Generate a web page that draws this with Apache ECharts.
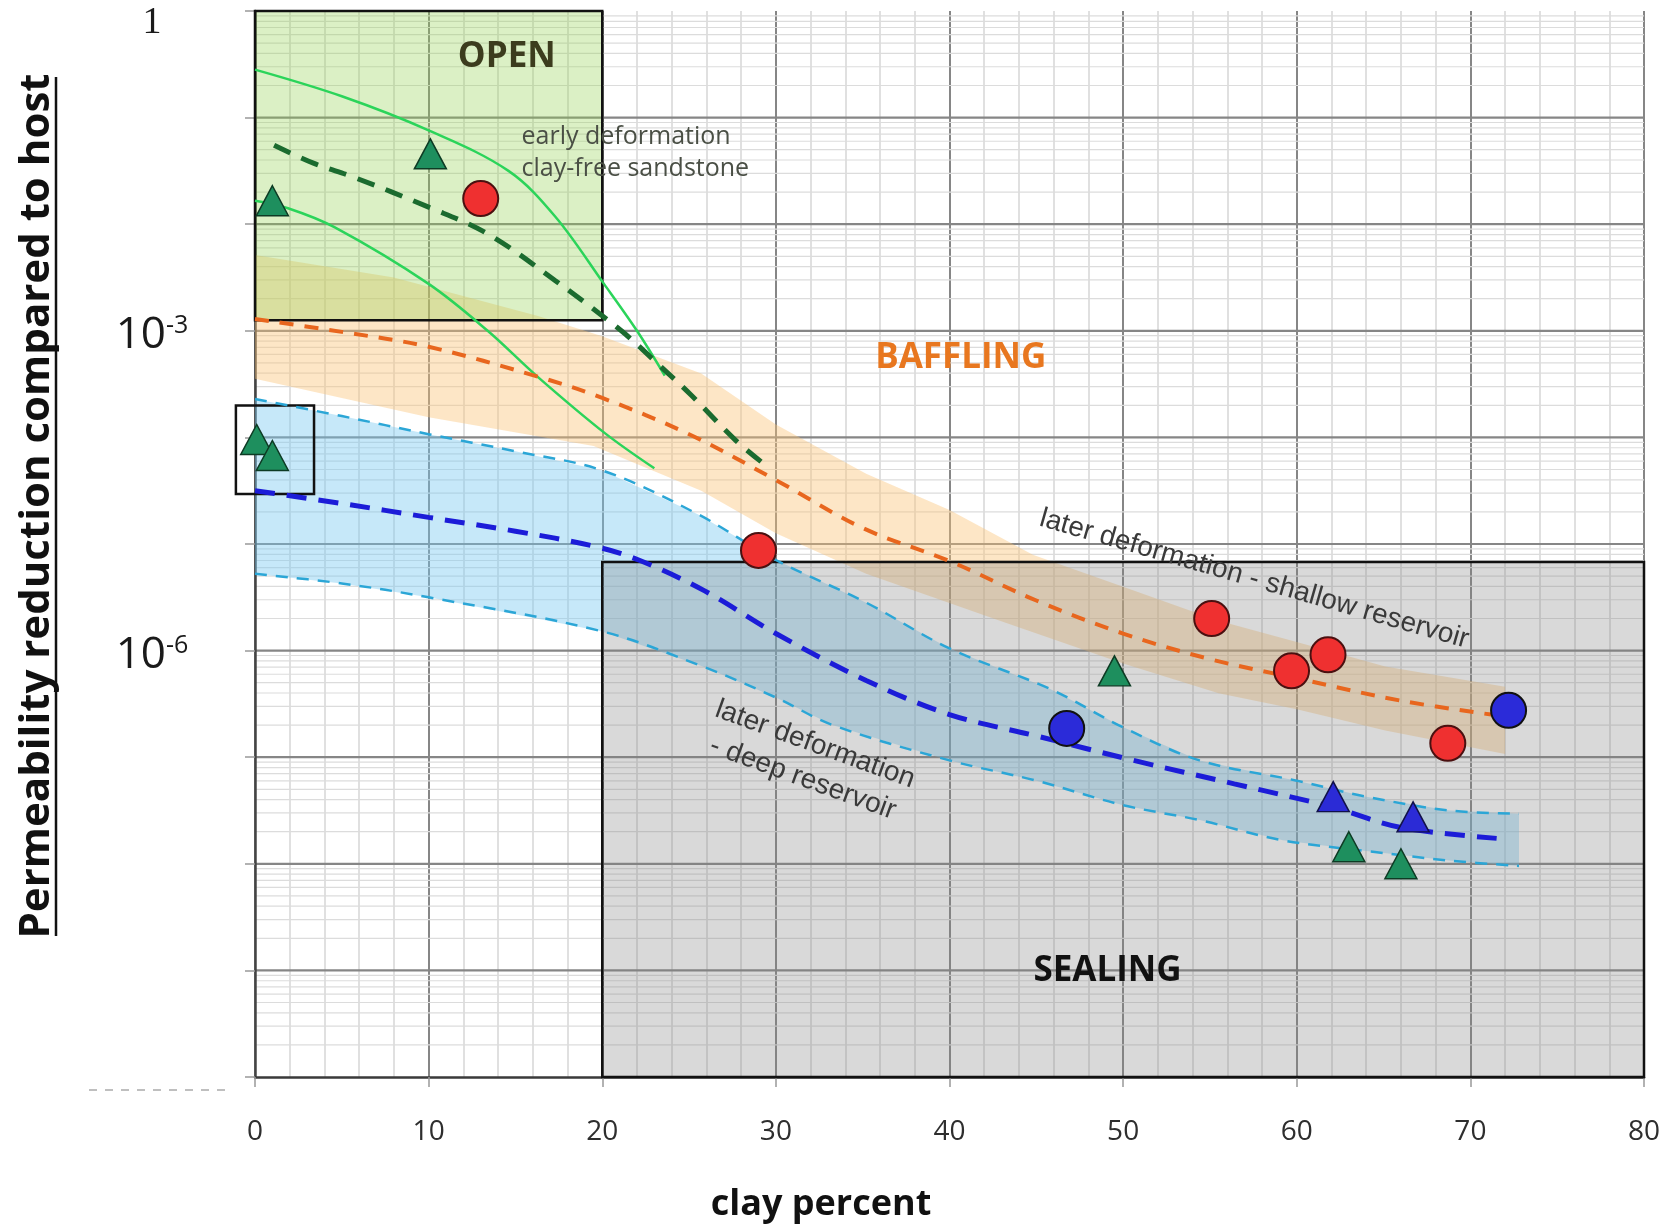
<!DOCTYPE html>
<html>
<head>
<meta charset="utf-8">
<script src="https://cdn.jsdelivr.net/npm/echarts@6/dist/echarts.min.js"></script>
<style>
html, body { margin: 0; padding: 0; background: #fff; }
#chart { width: 1668px; height: 1228px; }
</style>
</head>
<body>
<div id="chart"></div>
<script>
// y values are log10 of the permeability reduction (0 -> 1, -3 -> 10^-3, ...)
// x values are clay percent

// tick labels
const xTicks = [0, 10, 20, 30, 40, 50, 60, 70, 80];
const yLabelExps = [0, -3, -6];

// early deformation, clay-free sandstone (green)
const earlyUpper = [[0, -0.55], [5, -0.8], [10, -1.12], [14.6, -1.5], [17.3, -1.93], [20.1, -2.56], [22, -3.0], [23.6, -3.42]];
const earlyLower = [[0, -1.78], [1.9, -1.85], [4.6, -2.03], [10, -2.56], [13.4, -3.0], [16.2, -3.42], [20.15, -3.96], [23, -4.29]];
const earlyMean = [[1.1, -1.26], [3.4, -1.43], [5.7, -1.56], [10, -1.84], [13.4, -2.09], [17.3, -2.53], [21.1, -3.0], [23, -3.28], [25.1, -3.6], [27.7, -4.03], [29.4, -4.26]];

// later deformation, shallow reservoir (orange)
const shallowMean = [[0, -2.89], [5, -3.01], [10, -3.15], [16.3, -3.43], [20, -3.63], [25, -3.97], [30, -4.4], [35, -4.85], [40, -5.16], [45, -5.53], [50, -5.84], [55, -6.08], [60, -6.26], [66, -6.47], [71.2, -6.6]];
const shallowUpper = [[0, -2.29], [8, -2.5], [16.3, -2.86], [20, -3.05], [25.7, -3.4], [30, -3.88], [35.2, -4.34], [40, -4.68], [44.8, -5.1], [50, -5.4], [55.5, -5.72], [60, -5.92], [65.1, -6.15], [72, -6.34]];
const shallowLower = [[0, -3.45], [10, -3.81], [19.5, -4.08], [25.7, -4.5], [30, -4.9], [35.2, -5.28], [42.9, -5.72], [50, -6.12], [55.5, -6.4], [60, -6.55], [65.1, -6.75], [72, -6.97]];

// later deformation, deep reservoir (blue)
const deepMean = [[0, -4.5], [5, -4.62], [10, -4.75], [15, -4.88], [19.5, -5.02], [22.1, -5.15], [25.9, -5.44], [30, -5.84], [35.2, -6.28], [40, -6.6], [45, -6.8], [50.6, -7.03], [56.4, -7.25], [62.1, -7.47], [66, -7.66], [72.2, -7.77]];
const deepUpper = [[0, -3.64], [5, -3.8], [10, -3.97], [15, -4.13], [20, -4.31], [25.5, -4.72], [30, -5.15], [35.2, -5.55], [40, -5.98], [45.8, -6.36], [50, -6.72], [54.4, -7.03], [60, -7.22], [64, -7.37], [68.8, -7.5], [72.8, -7.53]];
const deepLower = [[0, -5.28], [5, -5.37], [10, -5.5], [20, -5.82], [25.8, -6.15], [30, -6.44], [33.3, -6.7], [40, -7.03], [45, -7.22], [50, -7.45], [54.4, -7.59], [59.2, -7.78], [64, -7.88], [68.8, -7.97], [72.8, -8.02]];

// measured samples
const greenTriangles = [[10.1, -1.34], [1.0, -1.78], [0.1, -4.02], [1.0, -4.17], [49.5, -6.19], [63.0, -7.84], [66.0, -8.0]];
const blueTriangles = [[62.1, -7.37], [66.7, -7.56]];
const redCircles = [[13.0, -1.76], [29.0, -5.06], [55.1, -5.7], [61.8, -6.04], [59.7, -6.19], [68.7, -6.87]];
const blueCircles = [[46.75, -6.73], [72.2, -6.56]];

// zones: [x0, x1, y0, y1]
const openBox = [0, 20, -2.9, 0];
const sealBox = [20, 80, -10, -5.17];
const clusterBox = [-1.1, 3.4, -4.53, -3.7];

// annotations
const zoneNames = ['OPEN', 'BAFFLING', 'SEALING'];
const zoneAt = [[14.5, -0.43], [40.65, -3.26], [49.1, -9.01]];
const noteText = ['early deformation\nclay-free sandstone', 'later deformation - shallow reservoir', 'later deformation\n- deep reservoir'];
const noteAt = [[15.35, -1.33], [57.55, -5.33], [31.9, -7.04]];

const chart = echarts.init(document.getElementById('chart'));

// log grid lines (major decades + 2..9 minors)
const gridRows = [];
for (let k = -10; k < 0; k++) {
    if (k > -10) gridRows.push([k, 1]);
    for (let m = 2; m <= 9; m++) gridRows.push([k + Math.log10(m), 0]);
}

function lineSeries(name, data, color, width, dash, z) {
    return {
        name, type: 'line', data, z, silent: true, clip: false,
        smooth: 0.35, symbol: 'none',
        lineStyle: { color, width, type: dash || 'solid', cap: 'butt' }
    };
}

function bandSeries(name, upper, lower, fill, z) {
    return {
        name, type: 'custom', z, silent: true, clip: false, data: [upper[0]],
        renderItem: function (params, api) {
            const pts = upper.concat(lower.slice().reverse()).map(p => api.coord(p));
            return { type: 'polygon', shape: { points: pts }, style: { fill } };
        }
    };
}

function boxSeries(name, box, fill, z) {
    return {
        name, type: 'custom', z, silent: true, clip: false, data: [[box[0], box[2]]],
        renderItem: function (params, api) {
            const a = api.coord([box[0], box[3]]);
            const b = api.coord([box[1], box[2]]);
            return {
                type: 'rect',
                shape: { x: a[0], y: a[1], width: b[0] - a[0], height: b[1] - a[1] },
                style: { fill, stroke: '#111', lineWidth: 2.5 }
            };
        }
    };
}

function textSeries(name, texts, at, styles, z) {
    return {
        name, type: 'custom', z, silent: true, clip: false, data: at,
        renderItem: function (params, api) {
            const i = params.dataIndex;
            const p = api.coord(at[i]);
            const s = styles[i];
            return {
                type: 'text', x: p[0], y: p[1], rotation: (s.rotate || 0) * Math.PI / 180,
                style: {
                    text: texts[i], font: s.font, fill: s.color,
                    align: s.align || 'center', verticalAlign: 'middle', lineHeight: s.lineHeight
                }
            };
        }
    };
}

const zoneStyles = [
    { font: 'bold 35px "Open Sans"', color: '#3c3c1e' },
    { font: 'bold 35px "Open Sans"', color: '#e8771f' },
    { font: 'bold 35px "Open Sans"', color: '#111' }
];
const noteStyles = [
    { font: '25px "Open Sans"', color: '#4a4f45', align: 'left', lineHeight: 32 },
    { font: '28px "Liberation Sans"', color: '#3a3a3a', rotate: -16 },
    { font: '28px "Liberation Sans"', color: '#3a3a3a', rotate: -20, lineHeight: 36 }
];

const option = {
    backgroundColor: '#fff',
    animation: false,
    grid: { left: 255, right: 24, top: 11, bottom: 151, containLabel: false, outerBoundsMode: 'none' },
    xAxis: {
        type: 'value', min: 0, max: 80, interval: 10,
        axisLine: { show: true, onZero: false, lineStyle: { color: '#3a3a3a', width: 2.5 } },
        axisTick: { show: true, length: 10, lineStyle: { color: '#999', width: 1.5 } },
        minorTick: { show: false, splitNumber: 5 },
        axisLabel: {
            margin: 41, fontFamily: 'Open Sans', fontSize: 28, color: '#2e2e2e',
            showMinLabel: true, showMaxLabel: true,
            formatter: v => xTicks.includes(v) ? String(v) : ''
        },
        splitLine: { show: true, lineStyle: { color: '#868686', width: 2 } },
        minorSplitLine: { show: true, lineStyle: { color: '#d6d6d6', width: 1.5 } }
    },
    yAxis: {
        type: 'value', min: -10, max: 0, interval: 1,
        axisLine: { show: true, onZero: false, lineStyle: { color: '#444', width: 2.5 } },
        axisTick: { show: true, length: 10, lineStyle: { color: '#999', width: 1.5 } },
        splitLine: { show: false },
        axisLabel: {
            margin: 103, align: 'center', showMinLabel: true, showMaxLabel: true,
            padding: [10, 0, 0, 0],
            formatter: function (v) {
                if (!yLabelExps.includes(v)) return '';
                if (v === 0) return '{one|1}';
                return '{b|10}{s|' + v + '}';
            },
            rich: {
                one: { fontFamily: 'Liberation Serif', fontSize: 38, color: '#1a1a1a', padding: [14, 0, 0, 0] },
                b: { fontFamily: 'Open Sans', fontSize: 44, color: '#1a1a1a' },
                s: { fontFamily: 'Open Sans', fontSize: 25, color: '#1a1a1a', verticalAlign: 'top' }
            }
        }
    },
    graphic: [
        {
            type: 'text', x: 37, y: 506, rotation: Math.PI / 2,
            style: { text: 'Permeability reduction compared to host', font: 'bold 42px "Open Sans"', fill: '#111', align: 'center', verticalAlign: 'middle' }
        },
        { type: 'line', shape: { x1: 56, y1: 77, x2: 56, y2: 936 }, style: { stroke: '#111', lineWidth: 2.5 } },
        {
            type: 'text', x: 821, y: 1205,
            style: { text: 'clay percent', font: 'bold 36px "Open Sans"', fill: '#111', align: 'center', verticalAlign: 'middle' }
        },
        { type: 'line', shape: { x1: 89, y1: 1090, x2: 230, y2: 1090 }, style: { stroke: '#aaa', lineWidth: 1.5, lineDash: [8, 8] } }
    ],
    series: [
        {
            name: 'log grid', type: 'custom', z: 0, silent: true, data: gridRows,
            renderItem: function (params, api) {
                const r = gridRows[params.dataIndex];
                const a = api.coord([0, r[0]]);
                const b = api.coord([80, r[0]]);
                return {
                    type: 'line', shape: { x1: a[0], y1: a[1], x2: b[0], y2: b[1] },
                    style: { stroke: r[1] ? '#868686' : '#dcdcdc', lineWidth: r[1] ? 2.2 : 1.2 }
                };
            }
        },
        bandSeries('shallow band', shallowUpper, shallowLower, 'rgba(250, 196, 120, 0.42)', 1),
        bandSeries('deep band', deepUpper, deepLower, 'rgba(120, 200, 240, 0.42)', 1),
        boxSeries('open', openBox, 'rgba(146, 208, 80, 0.33)', 2),
        boxSeries('sealing', sealBox, 'rgba(128, 128, 128, 0.3)', 2),
        boxSeries('cluster', clusterBox, 'rgba(0,0,0,0)', 2),
        lineSeries('early upper', earlyUpper, '#2bd45a', 2.5, null, 3),
        lineSeries('early lower', earlyLower, '#2bd45a', 2.5, null, 3),
        lineSeries('early mean', earlyMean, '#1b6b2f', 5, [18, 12], 3),
        lineSeries('shallow mean', shallowMean, '#e8661e', 4, [14, 11], 3),
        lineSeries('deep upper', deepUpper, '#2ba6d6', 2.5, [12, 9], 3),
        lineSeries('deep lower', deepLower, '#2ba6d6', 2.5, [12, 9], 3),
        lineSeries('deep mean', deepMean, '#1c1cd8', 5, [20, 12], 3),
        {
            name: 'green triangles', type: 'scatter', data: greenTriangles, z: 5, clip: false, silent: true,
            symbol: 'triangle', symbolSize: [32, 30],
            itemStyle: { color: '#1e8f5e', borderColor: '#0d3b24', borderWidth: 1.5, opacity: 1 }
        },
        {
            name: 'blue triangles', type: 'scatter', data: blueTriangles, z: 5, clip: false, silent: true,
            symbol: 'triangle', symbolSize: [32, 30],
            itemStyle: { color: '#2b2bd6', borderColor: '#11114a', borderWidth: 1.5, opacity: 1 }
        },
        {
            name: 'red circles', type: 'scatter', data: redCircles, z: 5, clip: false, silent: true,
            symbol: 'circle', symbolSize: 35,
            itemStyle: { color: '#ef3030', borderColor: '#4a1010', borderWidth: 2, opacity: 1 }
        },
        {
            name: 'blue circles', type: 'scatter', data: blueCircles, z: 5, clip: false, silent: true,
            symbol: 'circle', symbolSize: 35,
            itemStyle: { color: '#2b2bd9', borderColor: '#111', borderWidth: 2, opacity: 1 }
        },
        textSeries('zones', zoneNames, zoneAt, zoneStyles, 6),
        textSeries('notes', noteText, noteAt, noteStyles, 6)
    ]
};

chart.setOption(option);
</script>
</body>
</html>
